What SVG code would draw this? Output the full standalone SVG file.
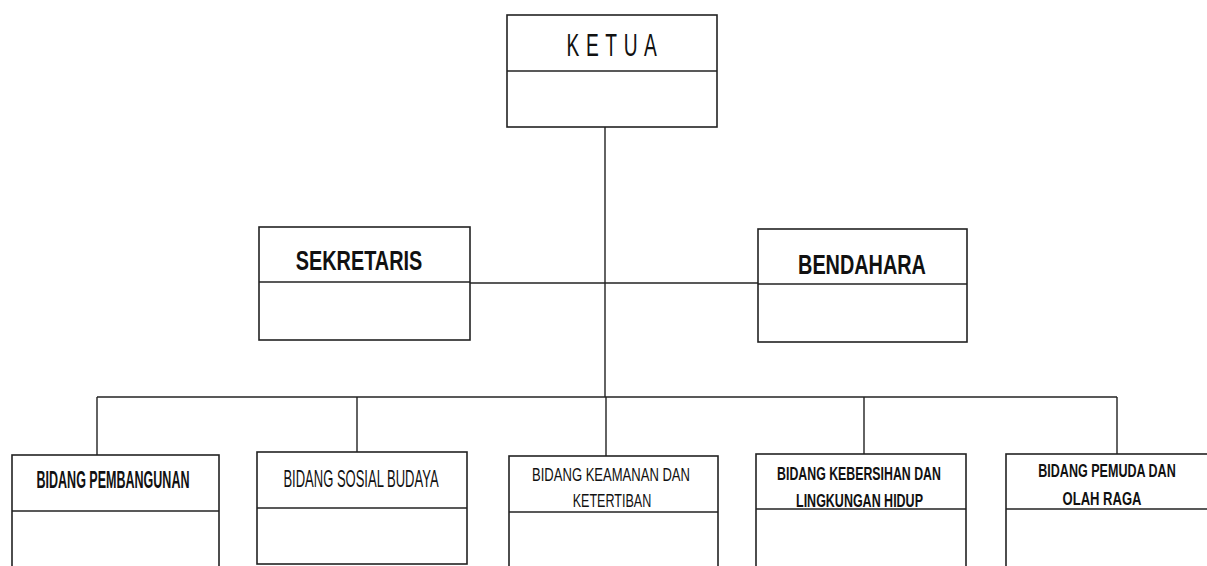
<svg xmlns="http://www.w3.org/2000/svg" width="1207" height="566" viewBox="0 0 1207 566">
<style>
.box{fill:#fff;stroke:#222;stroke-width:1.6}
.div{stroke:#222;stroke-width:1.6}
.con{stroke:#222;stroke-width:1.4;fill:none}
text{font-family:"Liberation Sans",Arial,sans-serif;fill:#111;text-anchor:middle}
.b{font-weight:bold}
</style>
<rect width="1207" height="566" fill="#fff"/>
<g id="connectors">
<line class="con" x1="605" y1="127" x2="605" y2="397"/>
<line class="con" x1="470" y1="283" x2="758" y2="283"/>
<line class="con" x1="97" y1="397" x2="1117" y2="397"/>
<line class="con" x1="97" y1="397" x2="97" y2="455"/>
<line class="con" x1="357" y1="397" x2="357" y2="452"/>
<line class="con" x1="606" y1="397" x2="606" y2="456"/>
<line class="con" x1="864" y1="397" x2="864" y2="454"/>
<line class="con" x1="1117" y1="397" x2="1117" y2="454"/>
</g>
<g id="ketua">
<rect class="box" x="507" y="15" width="210" height="112"/>
<line class="div" x1="507" y1="71" x2="717" y2="71"/>
<text transform="translate(615,56) scale(0.6,1)" font-size="32" letter-spacing="11">KETUA</text>
</g>
<g id="sekretaris">
<rect class="box" x="259" y="227" width="211" height="113"/>
<line class="div" x1="259" y1="282" x2="470" y2="282"/>
<text class="b" transform="translate(359,270) scale(0.709,1)" font-size="28">SEKRETARIS</text>
</g>
<g id="bendahara">
<rect class="box" x="758" y="229" width="209" height="113"/>
<line class="div" x1="758" y1="284" x2="967" y2="284"/>
<text class="b" transform="translate(862,274) scale(0.709,1)" font-size="28">BENDAHARA</text>
</g>
<g id="bidang-pembangunan">
<rect class="box" x="12" y="455" width="207" height="115"/>
<line class="div" x1="12" y1="511" x2="219" y2="511"/>
<text class="b" transform="translate(113,488) scale(0.522,1)" font-size="24">BIDANG PEMBANGUNAN</text>
</g>
<g id="bidang-sosial-budaya">
<rect class="box" x="257" y="452" width="210" height="112"/>
<line class="div" x1="257" y1="508" x2="467" y2="508"/>
<text transform="translate(361,487) scale(0.566,1)" font-size="23">BIDANG SOSIAL BUDAYA</text>
</g>
<g id="bidang-keamanan">
<rect class="box" x="509" y="456" width="209" height="114"/>
<line class="div" x1="509" y1="512" x2="718" y2="512"/>
<text transform="translate(611,481) scale(0.705,1)" font-size="18.5">BIDANG KEAMANAN DAN</text>
<text transform="translate(612,507) scale(0.68,1)" font-size="18.5">KETERTIBAN</text>
</g>
<g id="bidang-kebersihan">
<rect class="box" x="756" y="454" width="210" height="116"/>
<line class="div" x1="756" y1="509" x2="966" y2="509"/>
<text class="b" transform="translate(859,480) scale(0.686,1)" font-size="18">BIDANG KEBERSIHAN DAN</text>
<text class="b" transform="translate(859.5,507) scale(0.694,1)" font-size="18">LINGKUNGAN HIDUP</text>
</g>
<g id="bidang-pemuda">
<rect class="box" x="1006" y="454" width="210" height="116"/>
<line class="div" x1="1006" y1="509" x2="1216" y2="509"/>
<text class="b" transform="translate(1107,477) scale(0.678,1)" font-size="18.5">BIDANG PEMUDA DAN</text>
<text class="b" transform="translate(1102,505) scale(0.705,1)" font-size="18.5">OLAH RAGA</text>
</g>
</svg>
